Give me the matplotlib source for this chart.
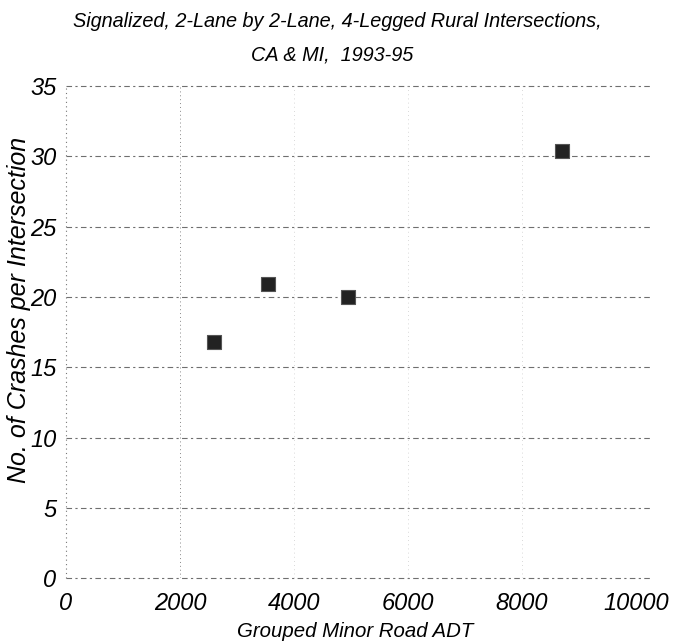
import matplotlib
matplotlib.use('Agg')
import matplotlib.pyplot as plt

# Grouped minor road ADT vs crashes per intersection
adt = [2600, 3550, 4950, 8700]
crashes = [16.8, 20.9, 20.0, 30.4]

x_ticks = [0, 2000, 4000, 6000, 8000, 10000]
y_ticks = [0, 5, 10, 15, 20, 25, 30, 35]

plt.rcParams['font.family'] = ['Liberation Sans', 'DejaVu Sans']
plt.rcParams['font.style'] = 'italic'

fig = plt.figure(figsize=(6.8, 6.43), dpi=100)
ax = fig.add_axes([0.097, 0.101, 0.859, 0.765])

ax.scatter(adt, crashes, marker='s', s=110, color='#222222',
           edgecolors='#555555', linewidths=0.8, zorder=3)

ax.set_xlim(0, 10250)
ax.set_ylim(0, 35)
ax.set_xticks(x_ticks)
ax.set_yticks(y_ticks)
ax.tick_params(axis='both', length=0, labelsize=17)
ax.tick_params(axis='y', pad=7)
ax.tick_params(axis='x', pad=10)

# broken-looking dashed gridlines like the scanned original
for y in y_ticks:
    ax.axhline(y, color='#6f6f6f', lw=0.8, ls=(0, (5, 3, 2, 3)), zorder=1,
               clip_on=False)
ax.axvline(2000, color='#888888', lw=0.7, ls=(0, (1, 3)), zorder=1)
for x in [4000, 6000, 8000]:
    ax.axvline(x, color='#cccccc', lw=0.6, ls=(0, (1, 4)), zorder=1)
ax.axvline(0, color='#777777', lw=0.8, ls=(0, (1, 3)), zorder=1, clip_on=False)

for s in ax.spines.values():
    s.set_visible(False)

ax.set_xlabel('Grouped Minor Road ADT', fontsize=14.7)
ax.xaxis.set_label_coords(0.495, -0.09)
ax.set_ylabel('No. of Crashes per Intersection', fontsize=18)
ax.yaxis.set_label_coords(-0.06, 0.545)

fig.text(0.496, 0.966, 'Signalized, 2-Lane by 2-Lane, 4-Legged Rural Intersections,',
         ha='center', va='center', fontsize=14.3)
fig.text(0.488, 0.914, 'CA & MI,  1993-95', ha='center', va='center', fontsize=14.3)

fig.savefig('out.png', dpi=100)
